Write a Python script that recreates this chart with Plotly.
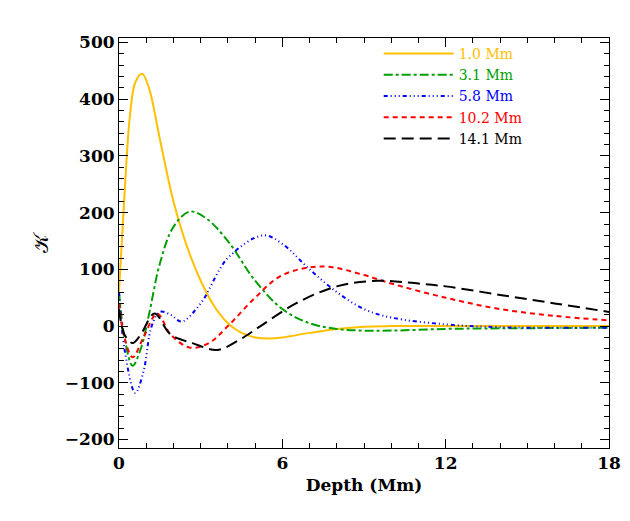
import plotly.graph_objects as go

depth_1 = [0, 0.2, 0.4, 0.6, 0.85, 1.1, 1.5, 2, 2.5, 3, 3.5, 4, 4.5, 5, 5.5, 6, 7, 8, 9, 10, 12, 14, 18]
k_1 = [60, 230, 370, 430, 445, 420, 330, 220, 140, 80, 35, 5, -12, -20, -22, -20, -12, -5, -1, 0, 0, 0, 0]

depth_3 = [0, 0.2, 0.5, 0.8, 1.1, 1.5, 2, 2.6, 3.2, 4, 5, 6, 7, 8, 9, 10, 12, 14, 18]
k_3 = [60, -20, -70, -40, 20, 110, 175, 202, 190, 150, 80, 30, 5, -5, -8, -8, -5, -4, -3]

depth_6 = [0, 0.2, 0.6, 0.9, 1.2, 1.5, 1.9, 2.3, 3, 4, 5.3, 6, 7, 8, 9, 10, 12, 14, 18]
k_6 = [60, -40, -118, -80, 0, 25, 20, 8, 40, 120, 160, 145, 100, 60, 30, 15, 3, -2, -3]

depth_10 = [0, 0.2, 0.5, 0.9, 1.4, 1.9, 2.6, 3.3, 4, 5, 6, 7.5, 9, 10, 12, 14, 16, 18]
k_10 = [40, -20, -55, -20, 22, -15, -38, -30, 0, 50, 90, 105, 90, 75, 50, 30, 18, 10]

depth_14 = [0, 0.2, 0.5, 0.8, 1.3, 1.9, 2.7, 3.6, 4.4, 5.2, 6.5, 8, 9.5, 11, 12, 14, 16, 18]
k_14 = [30, -15, -30, -15, 22, -15, -30, -42, -25, 0, 40, 70, 80, 75, 70, 55, 40, 25]

series = [
    ("1.0 Mm", depth_1, k_1, "#FFC000", "solid"),
    ("3.1 Mm", depth_3, k_3, "#00A000", "dashdot"),
    ("5.8 Mm", depth_6, k_6, "#0000FF", "4px 3px 1px 3px 1px 3px 1px 3px"),
    ("10.2 Mm", depth_10, k_10, "#FF0000", "5px 4px"),
    ("14.1 Mm", depth_14, k_14, "#000000", "12px 6px"),
]

fig = go.Figure()
for name, x, y, c, d in series:
    fig.add_trace(go.Scatter(
        x=x, y=y, mode="lines", line=dict(color=c, dash=d, width=2, shape="spline", smoothing=1.0),
        name=f"<span style='color:{c}'>{name}</span>",
    ))

ax = dict(showgrid=False, zeroline=False, mirror="allticks", ticks="inside", showline=True,
          linecolor="black", linewidth=1, ticklen=9, tickcolor="black",
          tickfont=dict(family="DejaVu Serif", size=17, weight="bold"),
          minor=dict(ticks="inside", ticklen=5, tickcolor="black"))
fig.update_xaxes(range=[0, 18], tickvals=[0, 6, 12, 18], minor_dtick=1,
                 title=dict(text="Depth (Mm)", standoff=6,
                            font=dict(family="DejaVu Serif", size=17, weight="bold")), **ax)
fig.update_yaxes(range=[-215, 508], dtick=100, minor_dtick=20,
                 title=dict(text="𝒦", standoff=10), **ax)
fig.update_layout(
    width=630, height=521, plot_bgcolor="white", paper_bgcolor="white",
    margin=dict(l=111, r=29, t=30, b=81),
    font=dict(family="DejaVu Serif", size=17, color="black"),
    legend=dict(x=0.53, y=1.0, xanchor="left", yanchor="top", bgcolor="rgba(0,0,0,0)",
                font=dict(size=14, family="DejaVu Serif"), itemwidth=70, tracegroupgap=0),
)
fig.write_html("out.html")
